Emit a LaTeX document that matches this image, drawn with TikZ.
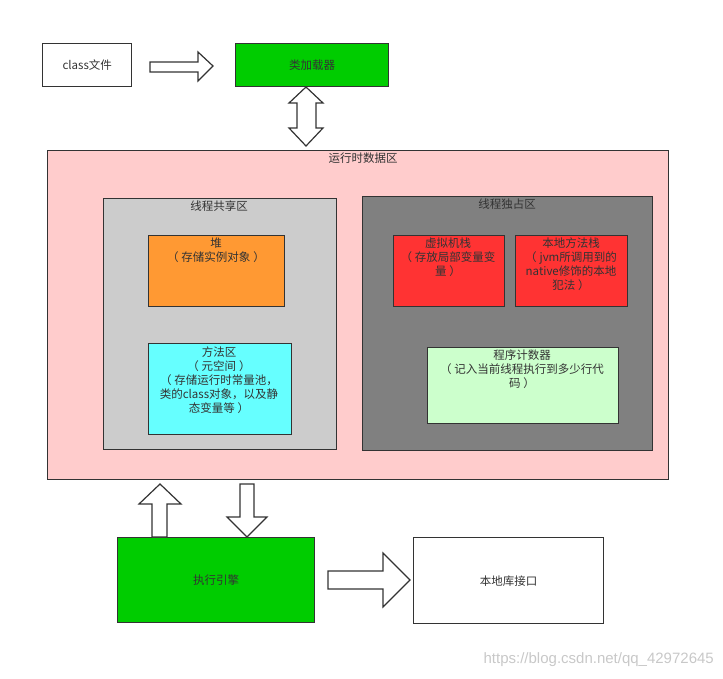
\documentclass[tikz,border=0pt]{standalone}
\usepackage{fontspec}
\setmainfont{Noto Sans CJK SC}
\newfontfamily\wmfont{Liberation Sans}
\definecolor{bord}{HTML}{333333}
\definecolor{txt}{HTML}{333333}
\definecolor{cgreen}{HTML}{00CC00}
\definecolor{cpink}{HTML}{FFCCCC}
\definecolor{cgray}{HTML}{CCCCCC}
\definecolor{cdgray}{HTML}{808080}
\definecolor{corange}{HTML}{FF9933}
\definecolor{ccyan}{HTML}{66FFFF}
\definecolor{cred}{HTML}{FF3333}
\definecolor{clgreen}{HTML}{CCFFCC}
\definecolor{wm}{HTML}{C8C8C8}
\newcommand{\lp}{（\hspace{3pt}}
\newcommand{\rp}{\hspace{3pt}）}
\begin{document}
\begin{tikzpicture}[x=1pt,y=-1pt,
  box/.style={draw=bord,line width=1.4pt,anchor=north west,inner sep=0pt},
  lbl/.style={text=txt,font=\fontsize{11.5}{14}\selectfont,align=center,inner sep=0pt,anchor=north},
  barrow/.style={draw=bord,line width=1.2pt,fill=white,line join=miter}]
\useasboundingbox (0,0) rectangle (723,678);
% top row
\node (cls) [box,fill=white,minimum width=89pt,minimum height=43pt] at (42,43) {};
\node (clst) [lbl,anchor=center] at (cls.center) {class文件};
\node (loader) [box,fill=cgreen,minimum width=153pt,minimum height=43pt] at (235,43) {};
\node (loadert) [lbl,anchor=center] at (loader.center) {类加载器};
\draw[barrow] (150,62) -- (198,62) -- (198,52) -- (213,66) -- (198,81) -- (198,72) -- (150,72) -- cycle;
% double arrow
\draw[barrow] (306,87) -- (323,103) -- (316,103) -- (316,128) -- (323,128) -- (306,146) -- (289,128) -- (297,128) -- (297,103) -- (289,103) -- cycle;
% runtime data area
\node (rt) [box,fill=cpink,minimum width=621pt,minimum height=329pt] at (47,150) {};
\node (rtt) [lbl] at (363,153) {运行时数据区};
\node (shared) [box,fill=cgray,minimum width=233pt,minimum height=251pt] at (103,198) {};
\node (sharedt) [lbl] at (219,201) {线程共享区};
\node (priv) [box,fill=cdgray,minimum width=290pt,minimum height=254pt] at (362,196) {};
\node (privt) [lbl] at (507,199) {线程独占区};
\node (heap) [box,fill=corange,minimum width=136pt,minimum height=71pt] at (148,235) {};
\node (heapt) [lbl] at (216,238) {堆\\\lp 存储实例对象\rp};
\node (meth) [box,fill=ccyan,minimum width=143pt,minimum height=91pt] at (148,343) {};
\node (metht) [lbl] at (219,347) {方法区\\\lp 元空间\rp\\\lp 存储运行时常量池，\\类的class对象，以及静\\态变量等\rp};
\node (vms) [box,fill=cred,minimum width=111pt,minimum height=71pt] at (393,235) {};
\node (vmst) [lbl] at (448,238) {虚拟机栈\\\lp 存放局部变量变\\量\rp};
\node (nms) [box,fill=cred,minimum width=112pt,minimum height=71pt] at (515,235) {};
\node (nmst) [lbl] at (571,238) {本地方法栈\\\lp jvm所调用到的\\native修饰的本地\\犯法\rp};
\node (pc) [box,fill=clgreen,minimum width=191pt,minimum height=76pt] at (427,347) {};
\node (pct) [lbl] at (522,350) {程序计数器\\\lp 记入当前线程执行到多少行代\\码\rp};
% bottom
\node (exec) [box,fill=cgreen,minimum width=197pt,minimum height=85pt] at (117,537) {};
\node (exect) [lbl,anchor=center] at (exec.center) {执行引擎};
\node (nat) [box,fill=white,minimum width=190pt,minimum height=86pt] at (413,537) {};
\node (natt) [lbl,anchor=center] at (nat.center) {本地库接口};
\draw[barrow] (160,484) -- (181,504) -- (167,504) -- (167,537) -- (152,537) -- (152,504) -- (139,504) -- cycle;
\draw[barrow] (240,484) -- (254,484) -- (254,517) -- (267,517) -- (247,537) -- (227,517) -- (240,517) -- cycle;
\draw[barrow] (328,571) -- (383,571) -- (383,553) -- (410,580) -- (383,607) -- (383,589) -- (328,589) -- cycle;
\node (wmark) [anchor=east,inner sep=0pt,text=wm,font=\wmfont\fontsize{15}{17}\selectfont] at (714,660) {https://blog.csdn.net/qq\_42972645};
\end{tikzpicture}
\end{document}
